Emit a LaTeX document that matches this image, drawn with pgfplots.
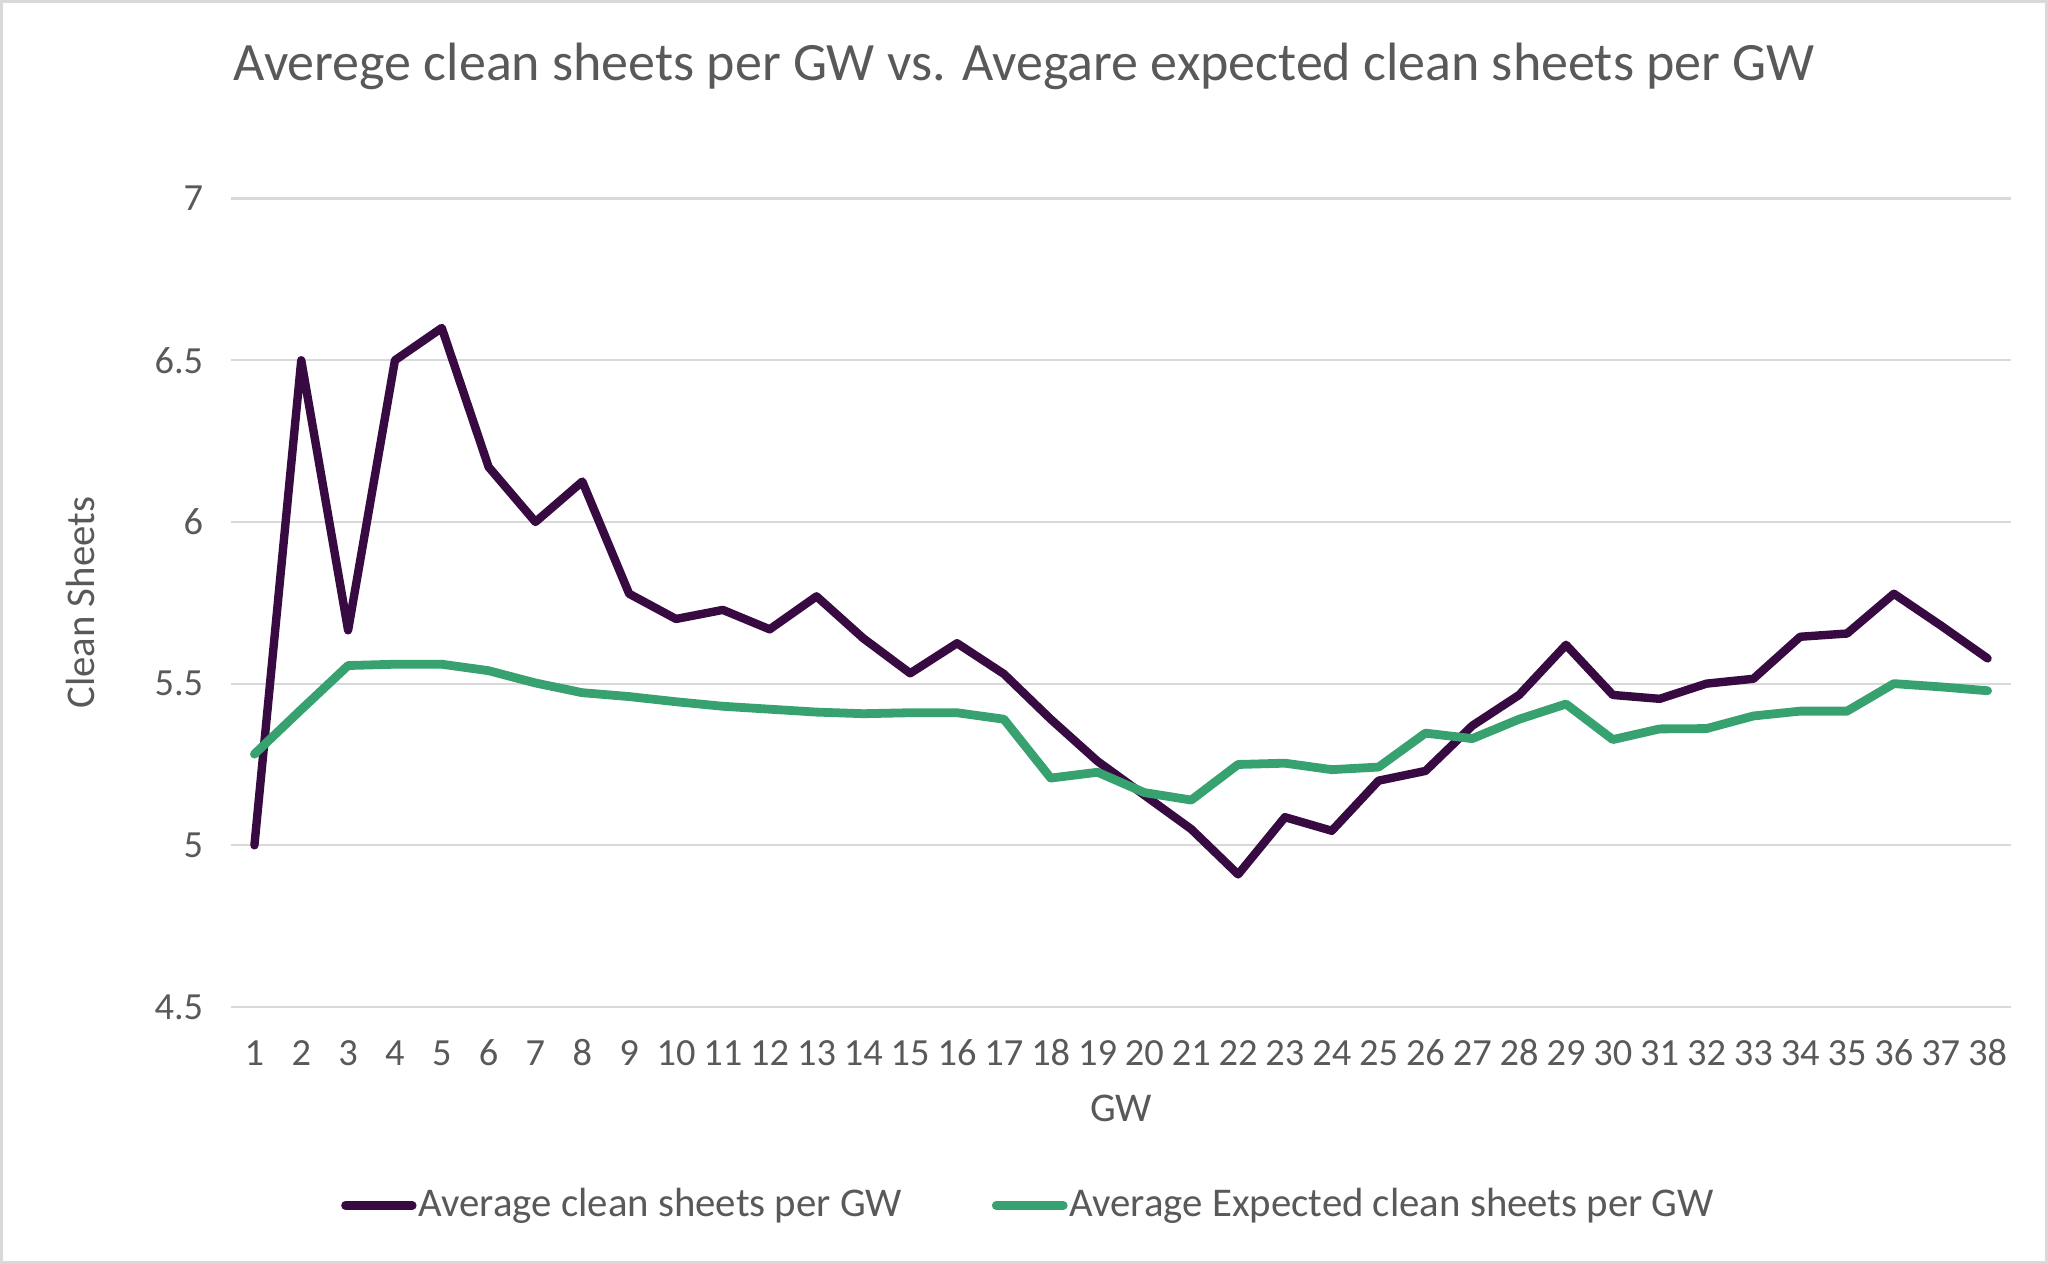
\documentclass[border=0pt]{standalone}
\usepackage{fontspec}
\setmainfont{Carlito}
\usepackage{pgfplots}
\pgfplotsset{compat=1.18}
\definecolor{cspurple}{HTML}{380A42}
\definecolor{csgreen}{HTML}{37A270}
\definecolor{txtgray}{HTML}{595959}
\definecolor{gridgray}{HTML}{D9D9D9}
\definecolor{framegray}{HTML}{D9D9D9}
\begin{document}
\begin{tikzpicture}
\useasboundingbox (-57.75pt,-64.25pt) rectangle (454.25pt,251.75pt);
\draw[color=framegray, line width=0.8pt] (-57.35pt,-63.85pt) rectangle (453.85pt,251.35pt);
\begin{axis}[
  at={(0pt,0pt)}, anchor=south west,
  scale only axis, width=445pt, height=202.1pt,
  xmin=0.5, xmax=38.5, ymin=4.5, ymax=7,
  xtick={1,...,38},
  ytick={4.5,5,5.5,6,6.5,7},
  yticklabels={4.5,5,5.5,6,6.5,7},
  axis line style={draw=none},
  major tick length=0pt,
  ymajorgrids, major grid style={color=gridgray, line width=0.55pt},
  /pgf/number format/assume math mode=true,
  tick label style={font=\fontsize{9.6}{11}\selectfont, text=txtgray},
  xticklabel style={anchor=center, yshift=-11.5pt},
  yticklabel style={anchor=east, inner xsep=0pt, xshift=-6.75pt},
  xlabel={GW},
  xlabel style={at={(axis description cs:0.5,0)}, anchor=center, yshift=-25.25pt, font=\fontsize{10.2}{12}\selectfont, text=txtgray},
  ylabel={Clean Sheets},
  ylabel style={at={(axis description cs:-0.0843,0.5)}, anchor=center, font=\fontsize{10.2}{12}\selectfont, text=txtgray},
  title={Averege clean sheets per GW vs. Avegare expected clean sheets per GW},
  title style={at={(axis description cs:0.4455,1)}, anchor=base, yshift=23.6pt, font=\fontsize{13.5}{16}\selectfont, text=txtgray},
  legend style={at={(axis description cs:0.448,-0.2455)}, anchor=center, draw=none, fill=none,
    font=\fontsize{10.2}{12}\selectfont, text=txtgray,
    /tikz/every even column/.append style={column sep=22pt},
    nodes={inner xsep=0.5pt, inner ysep=0pt}},
  legend columns=2,
  legend image code/.code={\draw[#1, line cap=round] (0pt,0pt) -- (16.75pt,0pt);},
]
\addplot[color=cspurple, line width=2.1pt, line join=round, line cap=round] coordinates {
(1,5.0) (2,6.5) (3,5.665) (4,6.5) (5,6.6) (6,6.17) (7,6.0) (8,6.125) (9,5.778) (10,5.70)
(11,5.728) (12,5.668) (13,5.77) (14,5.64) (15,5.532) (16,5.625) (17,5.53) (18,5.39) (19,5.26) (20,5.155)
(21,5.05) (22,4.91) (23,5.087) (24,5.045) (25,5.20) (26,5.23) (27,5.37) (28,5.465) (29,5.62) (30,5.465)
(31,5.453) (32,5.5) (33,5.515) (34,5.645) (35,5.655) (36,5.778) (37,5.68) (38,5.578)
};
\addlegendentry{Average clean sheets per GW}
\addplot[color=csgreen, line width=2.2pt, line join=round, line cap=round] coordinates {
(1,5.282) (2,5.42) (3,5.556) (4,5.56) (5,5.56) (6,5.54) (7,5.502) (8,5.472) (9,5.46) (10,5.444)
(11,5.43) (12,5.421) (13,5.412) (14,5.407) (15,5.41) (16,5.41) (17,5.39) (18,5.208) (19,5.226) (20,5.163)
(21,5.14) (22,5.25) (23,5.254) (24,5.234) (25,5.242) (26,5.347) (27,5.33) (28,5.39) (29,5.437) (30,5.327)
(31,5.36) (32,5.361) (33,5.4) (34,5.415) (35,5.415) (36,5.5) (37,5.49) (38,5.478)
};
\addlegendentry{Average Expected clean sheets per GW}
\end{axis}
\end{tikzpicture}
\end{document}
